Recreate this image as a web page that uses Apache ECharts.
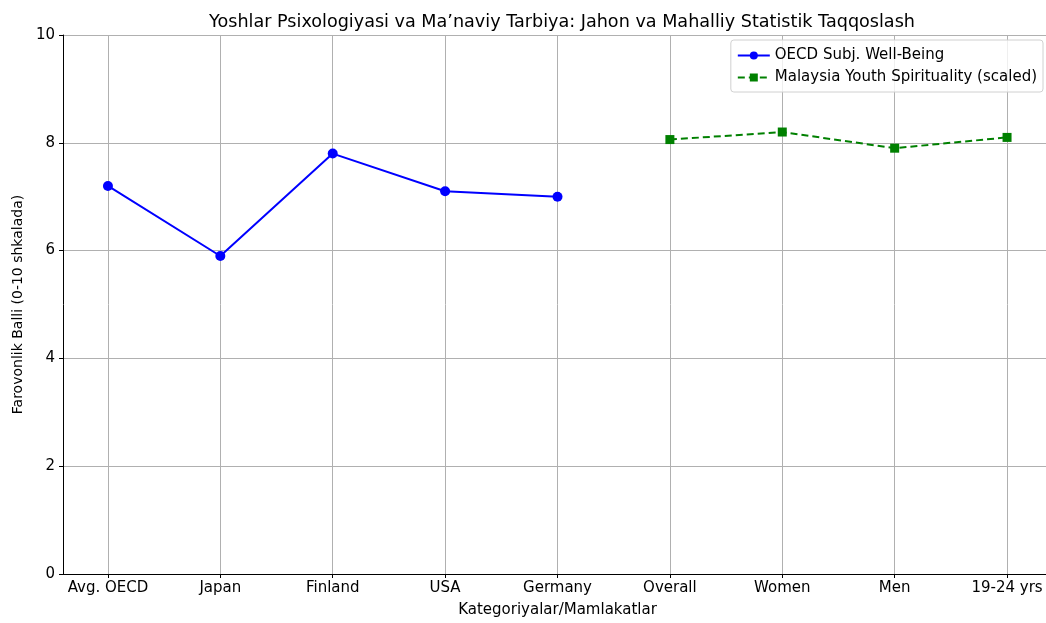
<!DOCTYPE html>
<html>
<head>
<meta charset="utf-8">
<script src="https://cdn.jsdelivr.net/npm/echarts@6/dist/echarts.min.js"></script>
<style>
  html, body { margin: 0; padding: 0; background: #fff; overflow: hidden; }
  #chart { width: 1052px; height: 623px; }
</style>
</head>
<body>
<div id="chart"></div>
<script>
// kategoriyalar va qiymatlar
const categories = ['Avg. OECD', 'Japan', 'Finland', 'USA', 'Germany', 'Overall', 'Women', 'Men', '19-24 yrs']
const oecdValues = [7.2, 5.9, 7.8, 7.1, 7.0]
const malaysiaValues = [8.06, 8.2, 7.9, 8.1]
const yTicks = [0, 2, 4, 6, 8, 10]

const catIndex = categories.map((c, i) => i)
const oecdData = oecdValues.map((v, i) => [i, v])
const malaysiaData = malaysiaValues.map((v, i) => [oecdValues.length + i, v])

const font = 'DejaVu Sans'
// rasm o'ng tomondan biroz kesilgan, shuning uchun konteyner 1052px
const chart = echarts.init(document.getElementById('chart'))

const option = {
    animation: false,
    textStyle: { fontFamily: font },
    title: {
        text: 'Yoshlar Psixologiyasi va Ma\u2019naviy Tarbiya: Jahon va Mahalliy Statistik Taqqoslash',
        left: 557,
        textAlign: 'center',
        top: 8,
        textStyle: { fontFamily: font, fontSize: 17.6, fontWeight: 'normal', color: '#000' }
    },
    grid: { left: 63, right: 0, top: 35, bottom: 48 },
    legend: {
        orient: 'vertical',
        right: 9,
        top: 40,
        align: 'left',
        itemWidth: 32,
        itemHeight: 10,
        itemGap: 5,
        padding: [7, 6, 6, 6],
        backgroundColor: 'rgba(255,255,255,0.8)',
        borderColor: '#d0d0d0',
        borderWidth: 1,
        borderRadius: 3,
        textStyle: { fontFamily: font, fontSize: 15, color: '#000', lineHeight: 17 },
        data: ['OECD Subj. Well-Being', 'Malaysia Youth Spirituality (scaled)']
    },
    xAxis: {
        type: 'value',
        min: -0.4,
        max: 8.4,
        name: 'Kategoriyalar/Mamlakatlar',
        nameLocation: 'middle',
        nameGap: 29,
        nameTextStyle: { fontFamily: font, fontSize: 15, color: '#000' },
        axisLine: { show: true, onZero: false, lineStyle: { color: '#000', width: 1 } },
        axisTick: { show: true, length: 4, customValues: catIndex, lineStyle: { color: '#000' } },
        axisLabel: {
            customValues: catIndex,
            fontFamily: font, fontSize: 15, color: '#000', margin: 7,
            formatter: (v) => categories[Math.round(v)]
        },
        splitLine: { show: true, lineStyle: { color: '#b0b0b0', width: 1 } }
    },
    yAxis: {
        type: 'value',
        min: 0,
        max: 10,
        interval: 2,
        name: 'Farovonlik Balli (0-10 shkalada)',
        nameLocation: 'middle',
        nameGap: 37,
        nameTextStyle: { fontFamily: font, fontSize: 14, color: '#000' },
        axisLine: { show: true, onZero: false, lineStyle: { color: '#000', width: 1 } },
        axisTick: { show: true, length: 4, lineStyle: { color: '#000' } },
        axisLabel: {
            fontFamily: font, fontSize: 15, color: '#000', margin: 8,
            formatter: (v) => yTicks.includes(v) ? String(v) : ''
        },
        splitLine: { show: true, lineStyle: { color: '#b0b0b0', width: 1 } }
    },
    series: [
        {
            name: 'OECD Subj. Well-Being',
            type: 'line',
            data: oecdData,
            symbol: 'circle',
            symbolSize: 10,
            itemStyle: { color: '#0000ff' },
            lineStyle: { color: '#0000ff', width: 2 }
        },
        {
            name: 'Malaysia Youth Spirituality (scaled)',
            type: 'line',
            data: malaysiaData,
            symbol: 'rect',
            symbolSize: 9,
            itemStyle: { color: '#008000' },
            lineStyle: { color: '#008000', width: 2, type: [7, 4] }
        }
    ]
}

chart.setOption(option)
</script>
</body>
</html>
